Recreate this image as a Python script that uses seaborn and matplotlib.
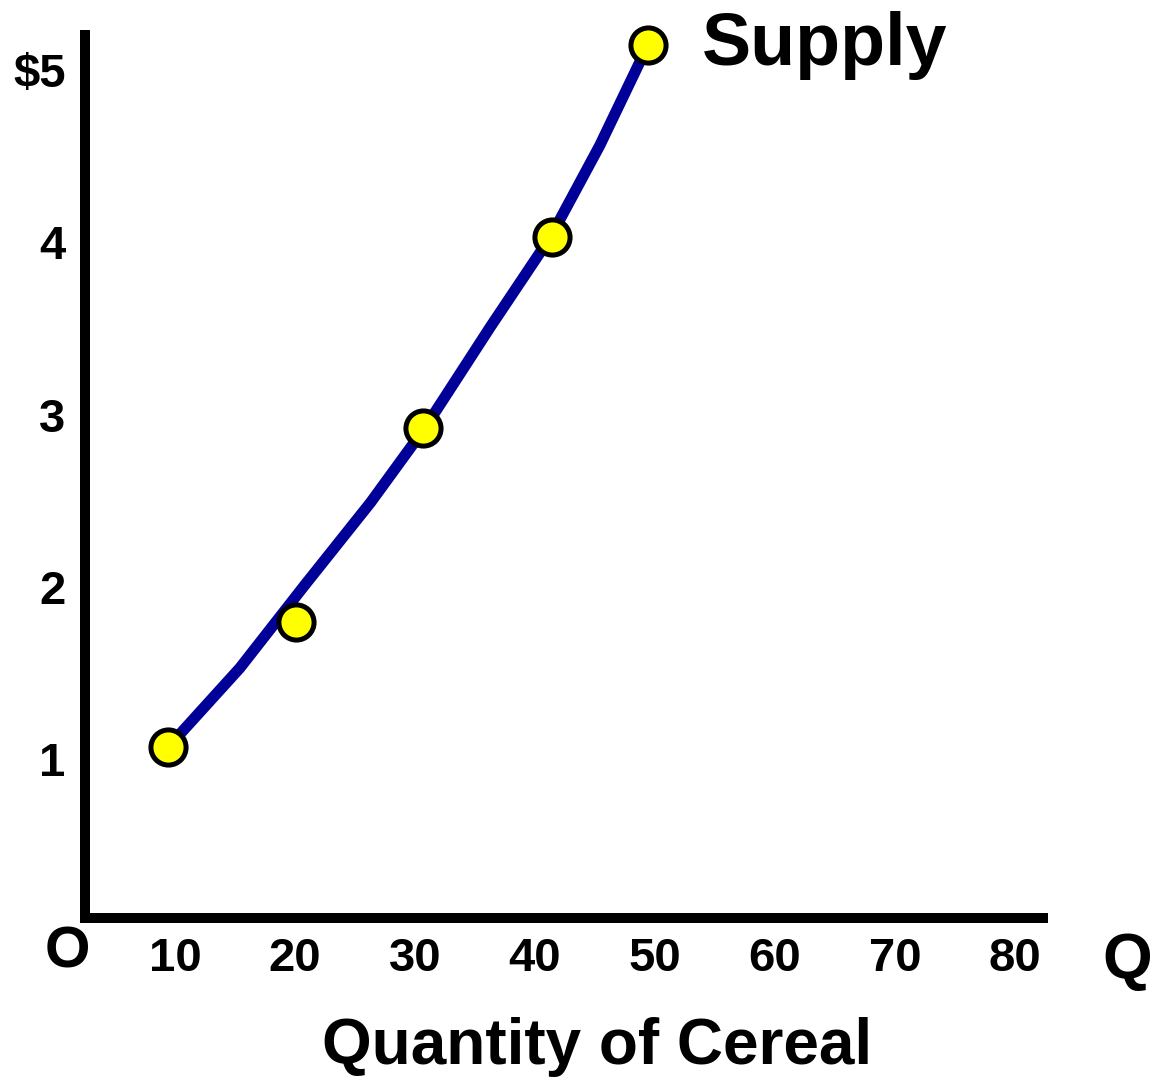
import matplotlib
matplotlib.use("Agg")
import matplotlib.pyplot as plt
import seaborn as sns

# Data
point_qty = [9.4, 20.1, 30.7, 41.4, 49.4]
point_price = [1.07, 1.80, 2.92, 4.03, 5.14]
curve_qty = [9.4, 15.4, 20.8, 26.3, 30.8, 36.3, 41.3, 45.4, 49.4]
curve_price = [1.07, 1.53, 2.01, 2.49, 2.92, 3.51, 4.03, 4.56, 5.14]
x_ticks = [10, 20, 30, 40, 50, 60, 70, 80]
x_labels = ["10", "20", "30", "40", "50", "60", "70", "80"]
y_ticks = [1, 2, 3, 4, 5]
y_labels = ["1", "2", "3", "4", "$5"]

sns.set_style("white")
plt.rcParams["font.family"] = ["Liberation Sans", "DejaVu Sans"]
plt.rcParams["font.weight"] = "bold"
for key in ["text.color", "xtick.color", "ytick.color", "axes.labelcolor"]:
    plt.rcParams[key] = "black"

W, H = 1164, 1081
fig = plt.figure(figsize=(W / 100, H / 100), dpi=100)
left_px, right_px, bottom_px, top_px = 85, 1043, 918, 35
ax = fig.add_axes([left_px / W, 1 - bottom_px / H,
                   (right_px - left_px) / W, (bottom_px - top_px) / H])

sns.lineplot(x=curve_qty, y=curve_price, sort=False, color="#000099",
             linewidth=8, ax=ax, zorder=2)
sns.scatterplot(x=point_qty, y=point_price, s=640, color="#FFFF00",
                edgecolor="black", linewidth=3.6, ax=ax, zorder=3, clip_on=False)

ax.set_xlim((left_px - 55) / 12, (right_px - 55) / 12)
ax.set_ylim((932 - bottom_px) / 172.5, (932 - top_px) / 172.5)

ax.set_xticks(x_ticks)
ax.set_xticklabels(x_labels, fontsize=34, fontweight="bold", color="black")
ax.set_yticks(y_ticks)
ax.set_yticklabels(y_labels, fontsize=34, fontweight="bold", color="black")
ax.tick_params(axis="both", length=0)
ax.tick_params(axis="x", pad=14)
ax.tick_params(axis="y", pad=14)

for side in ["top", "right"]:
    ax.spines[side].set_visible(False)
for side in ["left", "bottom"]:
    ax.spines[side].set_linewidth(7.2)
    ax.spines[side].set_color("black")
    ax.spines[side].set_capstyle("projecting")

ax.text((702 - 55) / 12, (932 - 65) / 172.5, "Supply", fontsize=53,
        fontweight="bold", ha="left", va="baseline", clip_on=False, color="black")

fig.text(67 / W, 1 - 952 / H, "O", fontsize=42, fontweight="bold",
         ha="center", va="center", color="black")
fig.text(1127 / W, 1 - 962 / H, "Q", fontsize=46, fontweight="bold",
         ha="center", va="center", color="black")
fig.text(597 / W, 1 - 1047 / H, "Quantity of Cereal", fontsize=46,
         fontweight="bold", ha="center", va="center", color="black")

fig.savefig("out.png", dpi=100)
